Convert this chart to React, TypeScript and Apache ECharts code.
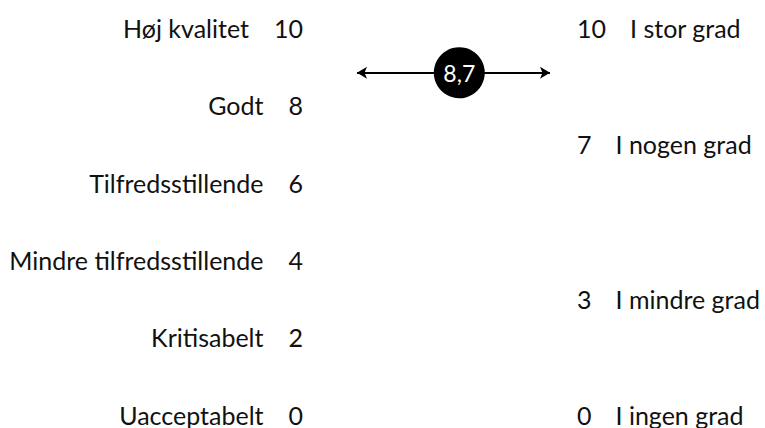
import React, { useEffect, useRef } from "react";
import * as echarts from "echarts";

const leftValues = [0, 2, 4, 6, 8, 10];
const leftNames = ["Uacceptabelt", "Kritisabelt", "Mindre tilfredsstillende", "Tilfredsstillende", "Godt", "Høj kvalitet"];
const rightValues = [0, 3, 7, 10];
const rightNames = ["I ingen grad", "I mindre grad", "I nogen grad", "I stor grad"];
const score = 8.7;
const scoreLabel = "8,7";

const FONT = "Lato";

export default function App() {
  const ref = useRef<HTMLDivElement>(null);
  useEffect(() => {
    if (!ref.current) return;
    const chart = echarts.init(ref.current, null, { renderer: "svg" });
    const textStyle = { fontFamily: FONT, fontSize: 25, color: "#111" };
    chart.setOption({
      animation: false,
      grid: { left: 357, right: 215, top: 22.5, bottom: 19 },
      xAxis: { type: "value", min: 0, max: 1, show: false },
      yAxis: [
        {
          type: "value",
          position: "left",
          min: 0,
          max: 10,
          interval: 2,
          axisLine: { show: false },
          axisTick: { show: false },
          splitLine: { show: false },
          axisLabel: {
            margin: 54,
            align: "right",
            verticalAlign: "middle",
            padding: [11, 0, 0, 0],
            formatter: (v: number) => {
              const i = leftValues.indexOf(v);
              if (i < 0) return "";
              return `{n|${leftNames[i]}}{v|${v}}`;
            },
            rich: {
              n: { ...textStyle },
              v: { ...textStyle, padding: [0, 0, 0, 25] },
            },
          },
        },
        {
          type: "value",
          position: "right",
          min: 0,
          max: 10,
          interval: 1,
          axisLine: { show: false },
          axisTick: { show: false },
          splitLine: { show: false },
          axisLabel: {
            margin: 27,
            align: "left",
            verticalAlign: "middle",
            padding: [11, 0, 0, 0],
            formatter: (v: number) => {
              const i = rightValues.indexOf(v);
              if (i < 0) return "";
              return `{v|${v}}{n|${rightNames[i]}}`;
            },
            rich: {
              v: { ...textStyle },
              n: { ...textStyle, padding: [0, 0, 0, 24] },
            },
          },
        },
      ],
      series: [
        {
          type: "line",
          data: [],
          z: 1,
          markLine: {
            silent: true,
            symbol: ["arrow", "arrow"],
            symbolSize: [9, 10],
            label: { show: false },
            lineStyle: { color: "#000", width: 2, type: "solid" },
            data: [{ yAxis: score }],
          },
        },
        {
          type: "scatter",
          data: [[0.53, score]],
          symbol: "circle",
          symbolSize: 51,
          itemStyle: { color: "#000", opacity: 1 },
          z: 10,
          label: {
            show: true,
            position: "inside",
            formatter: () => scoreLabel,
            color: "#fff",
            fontFamily: FONT,
            fontSize: 23,
          },
        },
      ],
    });
    return () => chart.dispose();
  }, []);
  return <div ref={ref} style={{ width: 765, height: 428, position: "absolute", left: 0, top: 0 }} />;
}
